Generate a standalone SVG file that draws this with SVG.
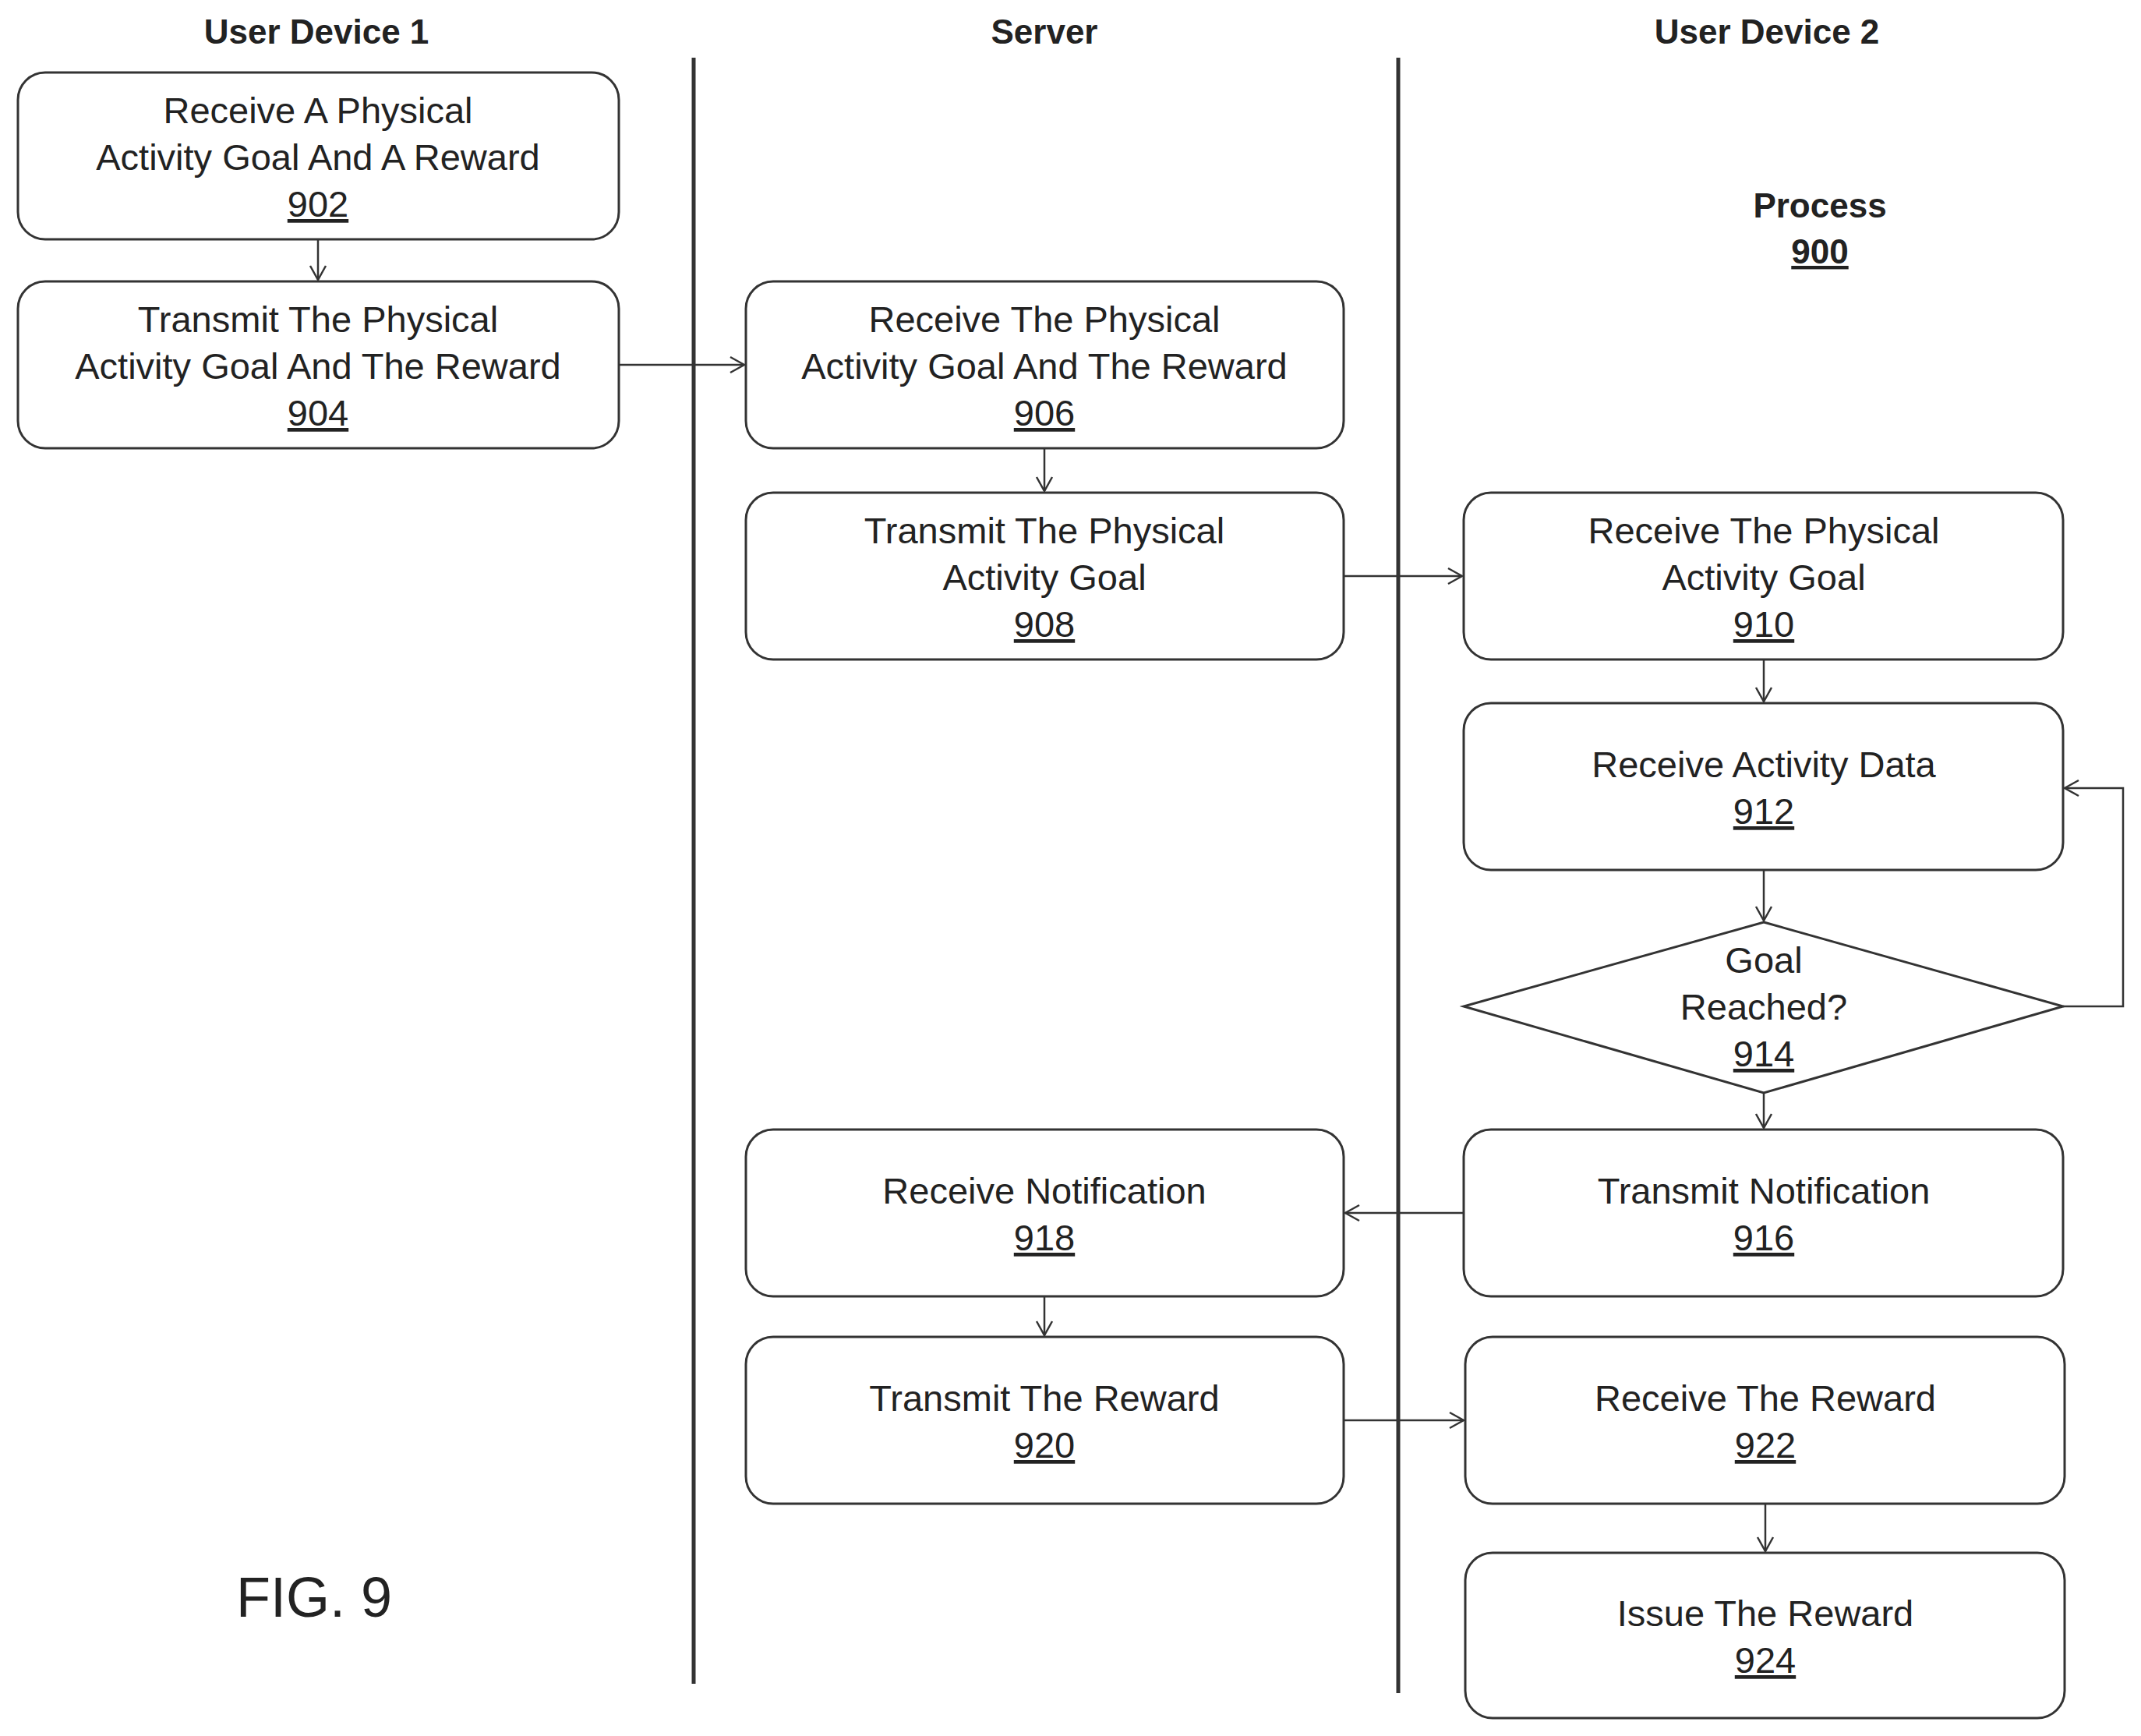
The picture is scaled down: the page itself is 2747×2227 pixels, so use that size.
<svg xmlns="http://www.w3.org/2000/svg" width="2747" height="2227" viewBox="0 0 2747 2227">
<style>
.b{fill:#fff;stroke:#333;stroke-width:3}
.t{font-family:"Liberation Sans",Arial,sans-serif;font-size:47px;fill:#222;text-anchor:middle}
.u{text-decoration:underline}
.h{font-family:"Liberation Sans",Arial,sans-serif;font-size:44px;font-weight:bold;fill:#222;text-anchor:middle}
.c{fill:none;stroke:#333;stroke-width:2.5}
.l{stroke:#333;stroke-width:5}
</style>
<defs><marker id="a" markerWidth="24" markerHeight="24" refX="22" refY="12" orient="auto" markerUnits="userSpaceOnUse"><polyline points="4,2 22,12 4,22" fill="none" stroke="#333" stroke-width="2.5"/></marker></defs>
<rect width="2747" height="2227" fill="#fff"/>
<g id="lanes">
<line class="l" x1="890" y1="74" x2="890" y2="2160"/>
<line class="l" x1="1794" y1="74" x2="1794" y2="2172"/>
<text class="h" x="406" y="56">User Device 1</text>
<text class="h" x="1340" y="56">Server</text>
<text class="h" x="2267" y="56">User Device 2</text>
<text class="h" x="2335" y="279">Process</text>
<text class="h u" x="2335" y="338">900</text>
<text class="t" x="403" y="2074" style="font-size:72px">FIG. 9</text>
</g>
<g id="n902"><rect class="b" x="23" y="93" width="771" height="214" rx="35"/><text class="t" x="408" y="158">Receive A Physical</text><text class="t" x="408" y="218">Activity Goal And A Reward</text><text class="t u" x="408" y="278">902</text></g>
<g id="n904"><rect class="b" x="23" y="361" width="771" height="214" rx="35"/><text class="t" x="408" y="426">Transmit The Physical</text><text class="t" x="408" y="486">Activity Goal And The Reward</text><text class="t u" x="408" y="546">904</text></g>
<g id="n906"><rect class="b" x="957" y="361" width="767" height="214" rx="35"/><text class="t" x="1340" y="426">Receive The Physical</text><text class="t" x="1340" y="486">Activity Goal And The Reward</text><text class="t u" x="1340" y="546">906</text></g>
<g id="n908"><rect class="b" x="957" y="632" width="767" height="214" rx="35"/><text class="t" x="1340" y="697">Transmit The Physical</text><text class="t" x="1340" y="757">Activity Goal</text><text class="t u" x="1340" y="817">908</text></g>
<g id="n910"><rect class="b" x="1878" y="632" width="769" height="214" rx="35"/><text class="t" x="2263" y="697">Receive The Physical</text><text class="t" x="2263" y="757">Activity Goal</text><text class="t u" x="2263" y="817">910</text></g>
<g id="n912"><rect class="b" x="1878" y="902" width="769" height="214" rx="35"/><text class="t" x="2263" y="997">Receive Activity Data</text><text class="t u" x="2263" y="1057">912</text></g>
<g id="n914"><polygon class="b" points="2263,1183 2647,1291 2263,1402 1878,1291"/><text class="t" x="2263" y="1248">Goal</text><text class="t" x="2263" y="1308">Reached?</text><text class="t u" x="2263" y="1368">914</text></g>
<g id="n916"><rect class="b" x="1878" y="1449" width="769" height="214" rx="35"/><text class="t" x="2263" y="1544">Transmit Notification</text><text class="t u" x="2263" y="1604">916</text></g>
<g id="n918"><rect class="b" x="957" y="1449" width="767" height="214" rx="35"/><text class="t" x="1340" y="1544">Receive Notification</text><text class="t u" x="1340" y="1604">918</text></g>
<g id="n920"><rect class="b" x="957" y="1715" width="767" height="214" rx="35"/><text class="t" x="1340" y="1810">Transmit The Reward</text><text class="t u" x="1340" y="1870">920</text></g>
<g id="n922"><rect class="b" x="1880" y="1715" width="769" height="214" rx="35"/><text class="t" x="2265" y="1810">Receive The Reward</text><text class="t u" x="2265" y="1870">922</text></g>
<g id="n924"><rect class="b" x="1880" y="1992" width="769" height="212" rx="35"/><text class="t" x="2265" y="2086">Issue The Reward</text><text class="t u" x="2265" y="2146">924</text></g>
<g id="connectors">
<line class="c" x1="408" y1="307" x2="408" y2="359" marker-end="url(#a)"/>
<line class="c" x1="794" y1="468" x2="955" y2="468" marker-end="url(#a)"/>
<line class="c" x1="1340" y1="575" x2="1340" y2="630" marker-end="url(#a)"/>
<line class="c" x1="1724" y1="739" x2="1876" y2="739" marker-end="url(#a)"/>
<line class="c" x1="2263" y1="846" x2="2263" y2="900" marker-end="url(#a)"/>
<line class="c" x1="2263" y1="1116" x2="2263" y2="1181" marker-end="url(#a)"/>
<polyline class="c" points="2647,1291 2724,1291 2724,1011 2649,1011" marker-end="url(#a)"/>
<line class="c" x1="2263" y1="1402" x2="2263" y2="1447" marker-end="url(#a)"/>
<line class="c" x1="1878" y1="1556" x2="1726" y2="1556" marker-end="url(#a)"/>
<line class="c" x1="1340" y1="1663" x2="1340" y2="1713" marker-end="url(#a)"/>
<line class="c" x1="1724" y1="1822" x2="1878" y2="1822" marker-end="url(#a)"/>
<line class="c" x1="2265" y1="1929" x2="2265" y2="1990" marker-end="url(#a)"/>
</g>
</svg>
